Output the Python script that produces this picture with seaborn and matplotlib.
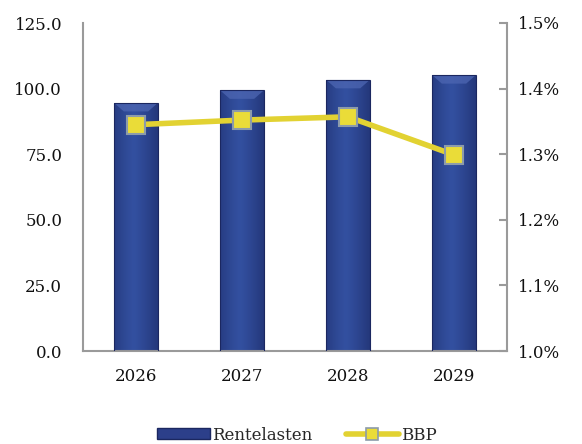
import numpy as np
import pandas as pd
import matplotlib
matplotlib.use("Agg")
import matplotlib.pyplot as plt
import seaborn as sns
from matplotlib.ticker import FuncFormatter
from matplotlib.lines import Line2D
from matplotlib.patches import Rectangle, Polygon

years = ["2026", "2027", "2028", "2029"]
rentelasten = [94.5, 99.3, 103.3, 105.1]
bbp = [1.345, 1.352, 1.357, 1.299]

sns.set_theme(style="white")
plt.rcParams['font.family'] = ['DejaVu Serif', 'Liberation Serif']
FS = 12

fig = plt.figure(figsize=(5.82, 4.44), dpi=100)
ax = fig.add_axes([83/582, 1-351/444, (507-83)/582, (351-23)/444])

df = pd.DataFrame({"year": years, "Rentelasten": rentelasten, "BBP": bbp})
sns.barplot(data=df, x="year", y="Rentelasten", color="#2C3F8A", width=0.41,
            edgecolor="#1B2760", linewidth=0.8, saturation=1, ax=ax)

# gradient shading on bars
grad = np.linspace(0, 1, 256)
prof = 1 - 0.55 * np.abs(grad - 0.45) ** 1.2 * 2
cmap = matplotlib.colors.LinearSegmentedColormap.from_list("b", ["#17225A", "#3350A0"])
for p in list(ax.patches):
    x0, y0 = p.get_x(), p.get_y()
    w, h = p.get_width(), p.get_height()
    img = ax.imshow(prof[np.newaxis, :], extent=[x0, x0 + w, y0, y0 + h], cmap=cmap,
                    vmin=0, vmax=1, aspect="auto", zorder=2)
    img.set_clip_path(p)
    # top bevel highlight (trapezoid)
    bev = 3.2
    ax.add_patch(Polygon([(x0, y0 + h), (x0 + w, y0 + h), (x0 + w*0.78, y0 + h - bev),
                          (x0 + w*0.22, y0 + h - bev)], closed=True,
                         facecolor="#4D66B2", edgecolor="none", alpha=0.75, zorder=3))
    p.set_zorder(4)
    p.set_facecolor("none")

ax.set_xlim(-0.5, 3.5)
ax.set_ylim(0, 125)
ax.set_yticks([0, 25, 50, 75, 100, 125])
ax.yaxis.set_major_formatter(FuncFormatter(lambda v, _: f"{v:.1f}"))
ax.set_xlabel("")
ax.set_ylabel("")
ax.tick_params(axis="y", length=0, labelsize=FS, pad=15, colors="#111111")
ax.tick_params(axis="x", length=0, labelsize=FS, pad=12, colors="#111111")
for s in ["top", "right"]:
    ax.spines[s].set_visible(False)
for s in ["left", "bottom"]:
    ax.spines[s].set_color("#9A9A9A")
    ax.spines[s].set_linewidth(1.5)

ax2 = ax.twinx()
sns.lineplot(data=df, x="year", y="BBP", color="#E2D232", linewidth=4, marker="s",
             markersize=13, markerfacecolor="#EADC38", markeredgecolor="#8C9BAA",
             markeredgewidth=1.5, ax=ax2, zorder=5)
ax2.set_ylim(1.0, 1.5)
ax2.set_yticks([1.0, 1.1, 1.2, 1.3, 1.4, 1.5])
ax2.yaxis.set_major_formatter(FuncFormatter(lambda v, _: f"{v:.1f}%"))
ax2.set_ylabel("")
ax2.set_xlabel("")
ax2.tick_params(axis="y", direction="in", length=6, width=1.5, color="#9A9A9A",
                labelsize=FS, pad=8, labelcolor="#111111")
for s in ["top", "left", "bottom"]:
    ax2.spines[s].set_visible(False)
ax2.spines["right"].set_color("#9A9A9A")
ax2.spines["right"].set_linewidth(1.5)
ax2.set_xlim(-0.5, 3.5)

handles = [
    Rectangle((0, 0), 1, 1, facecolor="#2C3F8A", edgecolor="#1B2760"),
    Line2D([0], [0], color="#E2D232", linewidth=4, marker="s", markersize=9,
           markerfacecolor="#EADC38", markeredgecolor="#8C9BAA", markeredgewidth=1.2),
]
fig.legend(handles, ["Rentelasten", "BBP"], loc="center", bbox_to_anchor=(0.51, 0.02),
           ncol=2, frameon=False, fontsize=FS, handlelength=3.2, handleheight=0.6,
           columnspacing=2.0, handletextpad=0.1)

fig.savefig("out.png", dpi=100)
